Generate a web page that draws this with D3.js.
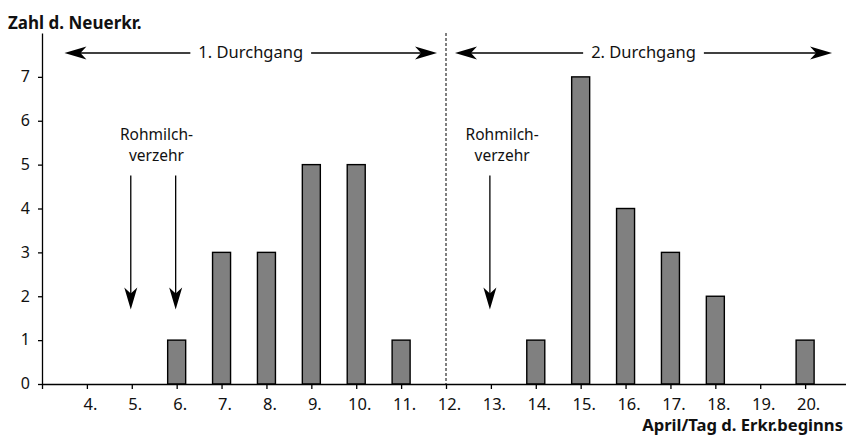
<!DOCTYPE html>
<html><head><meta charset="utf-8">
<script src="https://cdn.jsdelivr.net/npm/d3@7"></script>
<style>
body{margin:0;background:#fff;}
svg text{font-family:"Noto Sans",sans-serif;fill:#111;}
</style></head><body>
<svg id="c" width="846" height="437"></svg>
<script>
const days = [6, 7, 8, 9, 10, 11, 14, 15, 16, 17, 18, 20];
const counts = [1, 3, 3, 5, 5, 1, 1, 7, 4, 3, 2, 1];
const xTickDays = [3,4,5,6,7,8,9,10,11,12,13,14,15,16,17,18,19,20];
const yTicks = [0,1,2,3,4,5,6,7];
const phases = [{label:"1. Durchgang", from:3.5, to:11.8}, {label:"2. Durchgang", from:12.2, to:20.6}];
const milkDays = [5, 6, 13];
const milkLabels = [{day:5.55, lines:["Rohmilch-","verzehr"]},{day:13.25, lines:["Rohmilch-","verzehr"]}];
const divider = 12;

const FS = "16.5px";
const svg = d3.select("#c");
const x = d3.scaleLinear().domain([3,21]).range([42,850]);
const y = d3.scaleLinear().domain([0,8]).range([384,33]);

// bars
const bw = 18;
svg.selectAll("rect.bar").data(days.map((d,i)=>({d,v:counts[i]}))).join("rect")
  .attr("x", d=>x(d.d)-bw/2).attr("y", d=>y(d.v)).attr("width", bw).attr("height", d=>y(0)-y(d.v))
  .attr("fill","#808080").attr("stroke","#000").attr("stroke-width",1.4);

// axes
const xa = svg.append("g").attr("transform",`translate(0,${y(0)})`)
  .call(d3.axisBottom(x).tickValues(xTickDays).tickSize(5).tickSizeOuter(0).tickFormat(d=>d===3?"":d+"."));
xa.selectAll("text").attr("y",26).attr("dy","0").style("font-size","16.5px").attr("dx","3");
const ya = svg.append("g").attr("transform",`translate(${x(3)},0)`)
  .call(d3.axisLeft(y).tickValues(yTicks).tickSize(4).tickSizeOuter(0));
ya.selectAll("text").style("font-size","16px").attr("x",-12).attr("dy","0.3em");
svg.selectAll(".domain, .tick line").attr("stroke","#000").attr("stroke-width",1.3);

// divider
svg.append("line").attr("x1",x(divider)).attr("x2",x(divider)).attr("y1",y(8)).attr("y2",y(0))
  .attr("stroke","#000").attr("stroke-width",1).attr("stroke-dasharray","3,2");

// arrowheads
function head(g, tx, ty, ang){
  const L=22, W=6.5, N=16;
  const p=[[0,0],[-L,-W],[-N,0],[-L,W]];
  const c=Math.cos(ang), s=Math.sin(ang);
  g.append("path").attr("d","M"+p.map(q=>[tx+q[0]*c-q[1]*s, ty+q[0]*s+q[1]*c].join(",")).join("L")+"Z")
    .attr("fill","#000");
}

// phases
const py = 53;
phases.forEach(p=>{
  const x1=x(p.from), x2=x(p.to), cx=(x1+x2)/2;
  const t = svg.append("text").attr("x",cx).attr("y",py+5).attr("text-anchor","middle").style("font-size",FS).text(p.label);
  const w = t.node().getComputedTextLength();
  svg.append("line").attr("x1",x1+10).attr("x2",cx-w/2-8).attr("y1",py).attr("y2",py).attr("stroke","#000").attr("stroke-width",1.3);
  svg.append("line").attr("x1",cx+w/2+8).attr("x2",x2-10).attr("y1",py).attr("y2",py).attr("stroke","#000").attr("stroke-width",1.3);
  head(svg,x1,py,Math.PI);
  head(svg,x2,py,0);
});

// milk arrows
milkDays.forEach(d=>{
  const xx=x(d)-1;
  svg.append("line").attr("x1",xx).attr("x2",xx).attr("y1",y(4.75)).attr("y2",y(1.7)-12).attr("stroke","#000").attr("stroke-width",1.3);
  head(svg,xx,y(1.7),Math.PI/2);
});
milkLabels.forEach(m=>{
  m.lines.forEach((l,i)=>svg.append("text").attr("x",x(m.day)).attr("y",140+i*20.5)
    .attr("text-anchor","middle").style("font-size","15.5px").text(l));
});

// axis titles
svg.append("text").attr("x",8).attr("y",29).style("font-size","17px").style("font-weight","bold").text("Zahl d. Neuerkr.");
svg.append("text").attr("x",843).attr("y",431).attr("text-anchor","end").style("font-size","16.6px").style("font-weight","bold").text("April/Tag d. Erkr.beginns");
</script></body></html>
